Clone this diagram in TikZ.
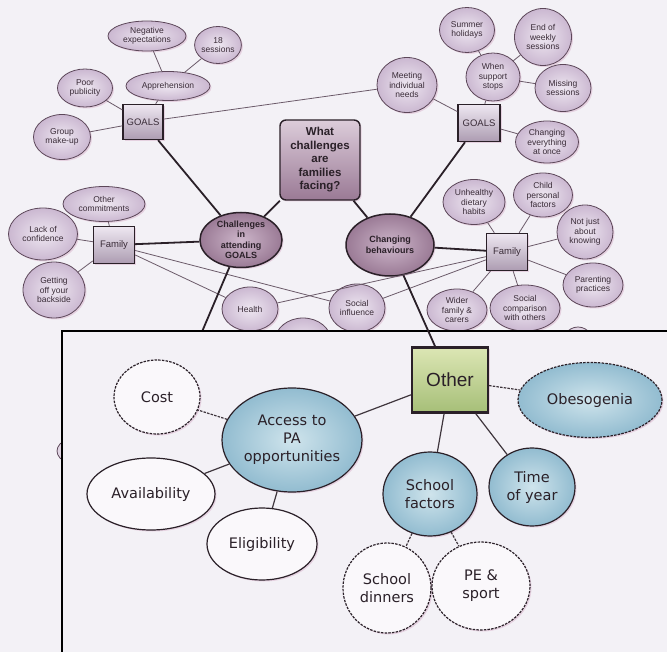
\documentclass[tikz,border=0pt]{standalone}
\usepackage{fontspec}
\setmainfont{Liberation Sans}
\newfontfamily\insetfont{DejaVu Sans}
\usetikzlibrary{shapes.geometric,shadows}

\definecolor{paper}{HTML}{F3F1F6}
\definecolor{lavlight}{HTML}{EEE7F1}
\definecolor{lavmid}{HTML}{CBB8D1}
\definecolor{lavedge}{HTML}{5C4759}
\definecolor{mauvelight}{HTML}{CDB6CA}
\definecolor{mauvedark}{HTML}{9A7A95}
\definecolor{ink}{HTML}{2A2028}
\definecolor{thinline}{HTML}{6B5A69}
\definecolor{txt}{HTML}{3A2C38}
\definecolor{bluelight}{HTML}{CFE4EC}
\definecolor{bluemid}{HTML}{92BCD0}
\definecolor{greenlight}{HTML}{DCE6B4}
\definecolor{greenmid}{HTML}{A6BF78}
\definecolor{shadowpink}{HTML}{DDBCD2}
\definecolor{openfill}{HTML}{FAF8FB}

\tikzset{
  pinkshadow/.style={drop shadow={shadow xshift=1.5pt, shadow yshift=-1.5pt, fill=shadowpink, opacity=0.6}},
  leaf/.style={ellipse, draw=lavedge, line width=0.8pt, inner color=lavlight, outer color=lavmid,
    text=txt, font=\fontsize{8.5}{9.5}\selectfont, align=center, inner sep=0pt, pinkshadow},
  hubbox/.style={rectangle, draw=ink, line width=1.4pt, top color=lavlight, bottom color=lavmid!85!black,
    text=txt, font=\fontsize{9.5}{10}\selectfont, minimum width=41pt, minimum height=37pt, inner sep=0pt, pinkshadow},
  theme/.style={ellipse, draw=ink, line width=1.5pt, inner color=mauvelight, outer color=mauvedark,
    text=ink, font=\bfseries\fontsize{9}{10.5}\selectfont, align=center, inner sep=0pt, pinkshadow},
  question/.style={rectangle, rounded corners=6pt, draw=ink, line width=1.4pt,
    top color=mauvelight!70!white, bottom color=mauvedark, text=ink,
    font=\bfseries\fontsize{11.5}{13.5}\selectfont, align=center, minimum width=80pt, minimum height=80pt,
    inner sep=0pt, pinkshadow},
  link/.style={draw=thinline, line width=0.8pt},
  trunk/.style={draw=ink, line width=1.8pt},
  hidden/.style={ellipse, draw=lavedge, line width=0.8pt, fill=lavmid!60!white, inner sep=0pt},
  frame/.style={draw=black, line width=1.6pt, fill=paper},
  otherbox/.style={rectangle, draw=ink, line width=2.2pt, top color=greenlight, bottom color=greenmid,
    text=ink, font=\fontsize{19}{22}\selectfont, minimum width=76pt, minimum height=65pt, inner sep=0pt, pinkshadow},
  bluenode/.style={ellipse, draw=ink, line width=1.2pt, inner color=bluelight, outer color=bluemid,
    text=ink, font=\insetfont\fontsize{14.5}{18}\selectfont, align=center, inner sep=0pt, pinkshadow},
  opennode/.style={ellipse, draw=ink, line width=1.2pt, fill=openfill,
    text=ink, font=\insetfont\fontsize{14.5}{18}\selectfont, align=center, inner sep=0pt, pinkshadow},
  dashedrim/.style={dash pattern=on 2.5pt off 1.2pt},
  ilink/.style={draw=ink!90, line width=1.2pt},
}

\begin{document}
\begin{tikzpicture}[x=1pt, y=-1pt]
\useasboundingbox (0,0) rectangle (667,652);
\clip (0,0) rectangle (667,652);
\fill[paper] (0,0) rectangle (667,652);

% ---- upper map: barriers to attending GOALS ----
\node[leaf, minimum width=78pt, minimum height=30pt] (negexp) at (147,36) {Negative\\expectations};
\node[leaf, minimum width=44pt, minimum height=37pt] (sessions) at (218,45) {18\\sessions};
\node[leaf, minimum width=84pt, minimum height=29pt] (appr) at (168,86) {Apprehension};
\node[leaf, minimum width=55pt, minimum height=38pt] (poor) at (85,88) {Poor\\publicity};
\node[hubbox, minimum width=40pt, minimum height=35pt] (goalsL) at (143,122) {GOALS};
\node[leaf, minimum width=57pt, minimum height=45pt] (group) at (62,137) {Group\\make-up};

\node[leaf, minimum width=55pt, minimum height=45pt] (summer) at (467,30) {Summer\\holidays};
\node[leaf, minimum width=57pt, minimum height=57pt] (endweek) at (543,37) {End of\\weekly\\sessions};
\node[leaf, minimum width=54pt, minimum height=48pt] (stops) at (493,77) {When\\support\\stops};
\node[leaf, minimum width=56pt, minimum height=47pt] (missing) at (563,88) {Missing\\sessions};
\node[leaf, minimum width=60pt, minimum height=55pt] (meeting) at (407,85) {Meeting\\individual\\needs};
\node[hubbox, minimum width=42pt, minimum height=37pt] (goalsR) at (479,123) {GOALS};
\node[leaf, minimum width=63pt, minimum height=42pt] (changing) at (547,142) {Changing\\everything\\at once};

\node[question] (q) at (320,160) {What\\challenges\\are\\families\\facing?};
\node[theme, minimum width=82pt, minimum height=55pt] (attend) at (241,240) {Challenges\\in\\attending\\GOALS};
\node[theme, minimum width=88pt, minimum height=62pt] (behav) at (390,245) {Changing\\behaviours};

\node[hubbox] (famL) at (114,245) {Family};
\node[leaf, minimum width=82pt, minimum height=35pt] (othercom) at (104,204) {Other\\commitments};
\node[leaf, minimum width=69pt, minimum height=52pt] (lack) at (43,234) {Lack of\\confidence};
\node[leaf, minimum width=62pt, minimum height=56pt] (getting) at (54,290) {Getting\\off your\\backside};
\node[leaf, minimum width=56pt, minimum height=44pt] (health) at (250,309) {Health};
\node[leaf, minimum width=56pt, minimum height=48pt] (social) at (357,308) {Social\\influence};

\node[hubbox] (famR) at (507,252) {Family};
\node[leaf, minimum width=62pt, minimum height=45pt] (diet) at (474,202) {Unhealthy\\dietary\\habits};
\node[leaf, minimum width=59pt, minimum height=44pt] (child) at (543,195) {Child\\personal\\factors};
\node[leaf, minimum width=56pt, minimum height=54pt] (knowing) at (585,232) {Not just\\about\\knowing};
\node[leaf, minimum width=60pt, minimum height=44pt] (parent) at (593,285) {Parenting\\practices};
\node[leaf, minimum width=60pt, minimum height=42pt] (wider) at (457,310) {Wider\\family \&\\carers};
\node[leaf, minimum width=70pt, minimum height=46pt] (compare) at (525,308) {Social\\comparison\\with others};

% nodes that continue below the inset
\node[leaf, minimum width=56pt, minimum height=46pt] (body) at (303,341) {Body\\image};
\node[hidden, minimum width=36pt, minimum height=46pt] (lowright) at (578,350) {};
\node[hidden, minimum width=76pt, minimum height=36pt] (lowleft) at (95,451) {};
\coordinate (attenddown) at (190,360);

% upper connectors
\draw[link] (negexp) -- (appr);
\draw[link] (sessions) -- (appr);
\draw[link] (appr) -- (goalsL);
\draw[link] (poor) -- (goalsL);
\draw[link] (group) -- (goalsL);
\draw[link] (goalsL) -- (meeting);
\draw[link] (summer) -- (stops);
\draw[link] (endweek) -- (stops);
\draw[link] (missing) -- (stops);
\draw[link] (stops) -- (goalsR);
\draw[link] (meeting) -- (goalsR);
\draw[link] (goalsR) -- (changing);
\draw[link] (othercom) -- (famL);
\draw[link] (lack) -- (famL);
\draw[link] (getting) -- (famL);
\draw[link] (famL) -- (health);
\draw[link] (famL) -- (social);
\draw[link] (health) -- (famR);
\draw[link] (social) -- (famR);
\draw[link] (diet) -- (famR);
\draw[link] (child) -- (famR);
\draw[link] (knowing) -- (famR);
\draw[link] (parent) -- (famR);
\draw[link] (wider) -- (famR);
\draw[link] (compare) -- (famR);

\draw[trunk] (q) -- (attend);
\draw[trunk] (q) -- (behav);
\draw[trunk] (goalsL) -- (attend);
\draw[trunk] (goalsR) -- (behav);
\draw[trunk] (famL) -- (attend);
\draw[trunk] (famR) -- (behav);
\draw[trunk] (attend) -- (attenddown);

% ---- inset: the "Other" branch ----
\path[frame] (62,331) rectangle (700,700);

\node[otherbox] (other) at (450,380) {Other};
\draw[trunk] (behav) -- (other);

\node[bluenode, dashedrim, minimum width=144pt, minimum height=75pt] (obeso) at (590,400) {Obesogenia};
\node[bluenode, minimum width=86pt, minimum height=78pt] (time) at (532,487) {Time\\of year};
\node[bluenode, minimum width=94pt, minimum height=84pt] (school) at (430,494) {School\\factors};
\node[opennode, dashedrim, minimum width=88pt, minimum height=90pt] (dinners) at (387,588) {School\\dinners};
\node[opennode, dashedrim, minimum width=98pt, minimum height=88pt] (pe) at (481,586) {PE \&\\sport};
\node[bluenode, minimum width=140pt, minimum height=104pt] (access) at (292,440) {Access to\\PA\\opportunities};
\node[opennode, dashedrim, minimum width=86pt, minimum height=74pt] (cost) at (157,397) {Cost};
\node[opennode, minimum width=128pt, minimum height=72pt] (avail) at (151,494) {Availability};
\node[opennode, minimum width=110pt, minimum height=72pt] (elig) at (262,544) {Eligibility};

\draw[ilink] (other) -- (access);
\draw[ilink, dashedrim] (other) -- (obeso);
\draw[ilink] (other) -- (school);
\draw[ilink] (other) -- (time);
\draw[ilink, dashedrim] (school) -- (dinners);
\draw[ilink, dashedrim] (school) -- (pe);
\draw[ilink, dashedrim] (access) -- (cost);
\draw[ilink] (access) -- (avail);
\draw[ilink] (access) -- (elig);
\end{tikzpicture}
\end{document}
